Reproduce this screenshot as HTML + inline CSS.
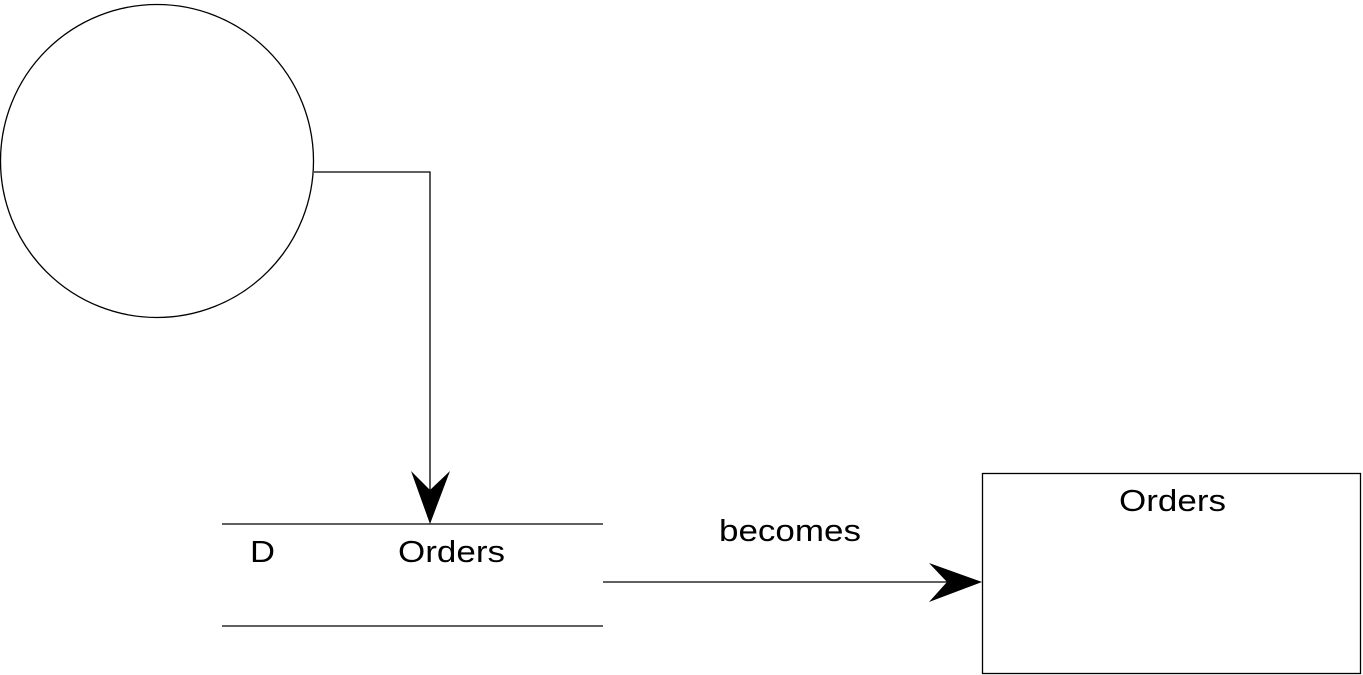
<!DOCTYPE html>
<html><head><style>body{margin:0;background:#fff}svg{display:block}</style></head><body>
<svg width="1363" height="675" xmlns="http://www.w3.org/2000/svg" font-family="Liberation Sans, sans-serif">
<circle cx="157" cy="161" r="156.5" fill="none" stroke="#000" stroke-width="1.3"/>
<polyline points="314,172 430,172 430,490" fill="none" stroke="#000" stroke-width="1.3"/>
<polygon points="430,524 411,471 430,490 450,471" fill="#000"/>
<line x1="222" y1="524" x2="603" y2="524" stroke="#000" stroke-width="1.3"/>
<line x1="222" y1="626" x2="603" y2="626" stroke="#000" stroke-width="1.3"/>
<text x="250" y="562" font-size="31" textLength="25" lengthAdjust="spacingAndGlyphs">D</text>
<text x="398" y="562" font-size="31" textLength="107" lengthAdjust="spacingAndGlyphs">Orders</text>
<line x1="603" y1="582" x2="950" y2="582" stroke="#000" stroke-width="1.3"/>
<polygon points="982,582 929,563 947,582 929,602" fill="#000"/>
<text x="719" y="541" font-size="31" textLength="142" lengthAdjust="spacingAndGlyphs">becomes</text>
<rect x="982.5" y="473.5" width="378" height="200" fill="none" stroke="#000" stroke-width="1.3"/>
<text x="1119" y="511" font-size="31" textLength="107" lengthAdjust="spacingAndGlyphs">Orders</text>
</svg>
</body></html>
